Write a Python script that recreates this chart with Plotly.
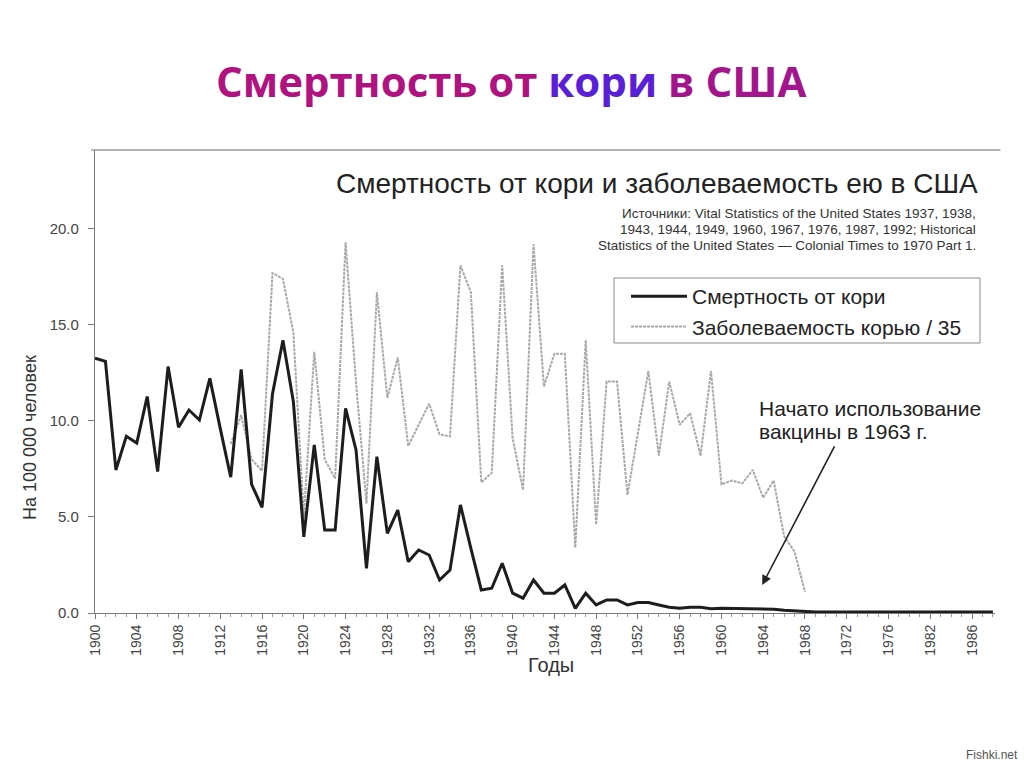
import plotly.graph_objects as go

# ---------------- data ----------------
mort_years = list(range(1900, 1987))
mortality = [
    13.27, 13.1, 7.45, 9.2, 8.85, 11.27, 7.36, 12.83, 9.67, 10.57,
    10.05, 12.22, 9.6, 7.07, 12.69, 6.7, 5.5, 11.4, 14.2, 11.0,
    3.97, 8.75, 4.32, 4.32, 10.66, 8.49, 2.33, 8.14, 4.15, 5.36,
    2.67, 3.28, 3.02, 1.72, 2.24, 5.63, 3.37, 1.2, 1.29, 2.59,
    1.03, 0.77, 1.72, 1.03, 1.03, 1.46, 0.24, 1.03, 0.42, 0.68,
    0.68, 0.42, 0.55, 0.55, 0.42, 0.3, 0.25, 0.3, 0.3, 0.22,
    0.25, 0.24, 0.22, 0.2, 0.22, 0.2, 0.14, 0.1, 0.06, 0.05,
    0.05, 0.05, 0.05, 0.05, 0.05, 0.05, 0.05, 0.05, 0.05, 0.05,
    0.05, 0.05, 0.05, 0.05, 0.05, 0.05, 0.05,
]

inc_years = list(range(1913, 1969))
incidence_35 = [
    8.8, 10.3, 8.0, 7.4, 17.7, 17.4, 14.6, 5.0, 13.6, 8.0,
    7.0, 19.3, 12.0, 5.7, 16.7, 11.2, 13.3, 8.7, 9.8, 10.9,
    9.3, 9.2, 18.1, 16.7, 6.8, 7.3, 18.1, 9.1, 6.4, 19.2,
    11.8, 13.5, 13.5, 3.4, 14.2, 4.6, 12.05, 12.05, 6.15, 9.4,
    12.6, 8.2, 12.05, 9.8, 10.4, 8.2, 12.6, 6.7, 6.9, 6.75,
    7.45, 6.0, 6.9, 4.0, 3.2, 1.1,
]

x_tickvals = list(range(1900, 1985, 4))
x_ticktext = ["1900", "1904", "1908", "1912", "1916", "1920", "1924", "1928",
              "1932", "1936", "1940", "1944", "1948", "1952", "1956", "1960",
              "1964", "1968", "1972", "1976", "1982", "1986"]
y_tickvals = [0, 5, 10, 15, 20]

name_mort = "Смертность от кори"
name_inc = "Заболеваемость корью / 35"

# ---------------- layout helpers (pixel -> paper) ----------------
W, H = 1024, 767
L, R, T, B = 95, 995, 150, 613


def px(x):
    return (x - L) / (R - L)


def py(y):
    return (B - y) / (B - T)


FONT = "Liberation Sans, Arial, sans-serif"

fig = go.Figure()
fig.add_trace(go.Scatter(
    x=inc_years, y=incidence_35, mode="lines", name=name_inc,
    line=dict(color="#a9a9a9", width=2, dash="3px,1px"),
))
fig.add_trace(go.Scatter(
    x=mort_years, y=mortality, mode="lines", name=name_mort,
    line=dict(color="#1d1d1d", width=3),
))

src_font = dict(family=FONT, size=13.5, color="#333333")
annotations = [
    dict(x=px(511), y=py(80), xref="paper", yref="paper", showarrow=False,
         xanchor="center", yanchor="middle",
         text="<b><span style='color:#b0137f'>Смертность от </span>"
              "<span style='color:#5a20d8'>кори</span>"
              "<span style='color:#a3158c'> в США</span></b>",
         font=dict(family="Open Sans, Noto Sans, sans-serif", size=42)),
    dict(x=px(980), y=py(183), xref="paper", yref="paper", showarrow=False,
         xanchor="right", yanchor="middle",
         text="Смертность от кори и заболеваемость ею в США",
         font=dict(family=FONT, size=28, color="#222222")),
    dict(x=px(978), y=py(213), xref="paper", yref="paper", showarrow=False,
         xanchor="right", yanchor="middle",
         text="Источники: Vital Statistics of the United States 1937, 1938,",
         font=src_font),
    dict(x=px(978), y=py(229), xref="paper", yref="paper", showarrow=False,
         xanchor="right", yanchor="middle",
         text="1943, 1944, 1949, 1960, 1967, 1976, 1987, 1992; Historical",
         font=src_font),
    dict(x=px(978), y=py(245), xref="paper", yref="paper", showarrow=False,
         xanchor="right", yanchor="middle",
         text="Statistics of the United States — Colonial Times to 1970 Part 1.",
         font=src_font),
    dict(x=px(757), y=py(408), xref="paper", yref="paper", showarrow=False,
         xanchor="left", yanchor="middle",
         text="Начато использование",
         font=dict(family=FONT, size=21, color="#222222")),
    dict(x=px(757), y=py(431), xref="paper", yref="paper", showarrow=False,
         xanchor="left", yanchor="middle",
         text="вакцины в 1963 г.",
         font=dict(family=FONT, size=21, color="#222222")),
    dict(x=1963.9, y=1.46, xref="x", yref="y", ax=1970.9, ay=8.75,
         axref="x", ayref="y", text="", showarrow=True, arrowhead=2,
         arrowsize=1.2, arrowwidth=1.6, arrowcolor="#222222"),
    dict(x=px(30), y=py(438), xref="paper", yref="paper", showarrow=False,
         xanchor="center", yanchor="middle", textangle=-90,
         text="На 100 000 человек",
         font=dict(family=FONT, size=18, color="#333333")),
    dict(x=px(551), y=py(665), xref="paper", yref="paper", showarrow=False,
         xanchor="center", yanchor="middle", text="Годы",
         font=dict(family=FONT, size=20, color="#333333")),
    dict(x=px(1020), y=py(755), xref="paper", yref="paper", showarrow=False,
         xanchor="right", yanchor="middle", text="Fishki.net",
         font=dict(family=FONT, size=12, color="#555555")),
]

fig.update_layout(
    width=W, height=H, autosize=False,
    margin=dict(l=L, r=W - R, t=T, b=H - B, pad=0),
    paper_bgcolor="white", plot_bgcolor="white",
    showlegend=True,
    legend=dict(
        x=px(626), y=py(276), xanchor="left", yanchor="top",
        bgcolor="rgba(0,0,0,0)", borderwidth=0,
        font=dict(family=FONT, size=21, color="#222222"),
        traceorder="reversed", itemwidth=56,
        tracegroupgap=0,
    ),
    annotations=annotations,
    shapes=[
        dict(type="line", xref="paper", yref="paper",
             x0=-0.004, x1=1.006, y0=1, y1=1,
             line=dict(color="#9a9a9a", width=1.5)),
        dict(type="rect", xref="paper", yref="paper", layer="below",
             x0=px(614), x1=px(980), y0=py(343), y1=py(278),
             fillcolor="white", line=dict(color="#8a8a8a", width=1)),
    ],
)

fig.update_xaxes(
    range=[1900, 1986.2], showgrid=False, zeroline=False,
    showline=True, linecolor="#7a7a7a", linewidth=1.2,
    tickmode="array", tickvals=x_tickvals, ticktext=x_ticktext,
    tickangle=-90, ticks="outside", ticklen=5, tickcolor="#7a7a7a",
    tickfont=dict(family=FONT, size=14, color="#444444"),
    minor=dict(tickmode="linear", tick0=1900, dtick=1, ticks="outside",
               ticklen=3, tickcolor="#9a9a9a"),
)
fig.update_yaxes(
    range=[0, 24.11], showgrid=False, zeroline=False,
    showline=True, linecolor="#7a7a7a", linewidth=1.2,
    tickmode="array", tickvals=y_tickvals, tickformat=".1f",
    ticks="outside", ticklen=6, tickcolor="#7a7a7a",
    ticklabelstandoff=6,
    tickfont=dict(family=FONT, size=15, color="#444444"),
)

fig.write_html("out.html", config={"displayModeBar": False},
               post_script="document.body.style.margin='0';")
